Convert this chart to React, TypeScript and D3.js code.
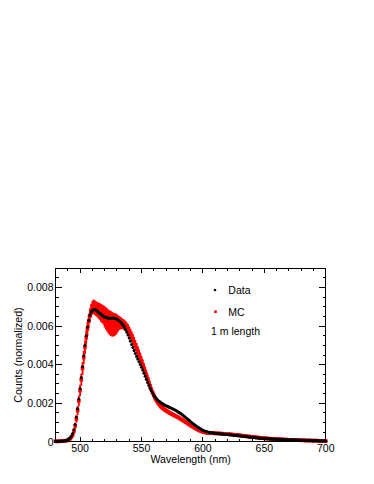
import React from "react";
import * as d3 from "d3";

// wavelength bins (nm), 1 nm step
const wlStart = 480;
const wlEnd = 700;

// Measured data (normalized counts), 480..700 nm
const dataValues = [
  0.00003, 0.00003, 0.00003, 0.00003, 0.00003, 0.00004, 0.00004, 0.00005, 0.00006, 0.00008,
  0.00011, 0.00015, 0.00021, 0.00030, 0.00043, 0.00062, 0.00090, 0.00128, 0.00172, 0.00222,
  0.00276, 0.00333, 0.00390, 0.00446, 0.00500, 0.00550, 0.00595, 0.00630, 0.00656, 0.00672,
  0.00681, 0.00685, 0.00686, 0.00683, 0.00678, 0.00672, 0.00667, 0.00661, 0.00656, 0.00651,
  0.00648, 0.00645, 0.00643, 0.00641, 0.00640, 0.00640, 0.00641, 0.00642, 0.00641, 0.00639,
  0.00636, 0.00632, 0.00627, 0.00621, 0.00614, 0.00605, 0.00595, 0.00583, 0.00569, 0.00554,
  0.00538, 0.00522, 0.00505, 0.00489, 0.00473, 0.00458, 0.00443, 0.00429, 0.00415, 0.00401,
  0.00387, 0.00372, 0.00356, 0.00340, 0.00324, 0.00308, 0.00293, 0.00278, 0.00265, 0.00253,
  0.00242, 0.00233, 0.00225, 0.00218, 0.00212, 0.00207, 0.00202, 0.00198, 0.00194, 0.00190,
  0.00187, 0.00184, 0.00181, 0.00178, 0.00175, 0.00172, 0.00169, 0.00166, 0.00162, 0.00158,
  0.00154, 0.00150, 0.00146, 0.00141, 0.00136, 0.00131, 0.00126, 0.00121, 0.00115, 0.00110,
  0.00104, 0.00099, 0.00094, 0.00089, 0.00084, 0.00079, 0.00075, 0.00071, 0.00067, 0.00063,
  0.00060, 0.00057, 0.00055, 0.00053, 0.00051, 0.00049, 0.00048, 0.00047, 0.00046, 0.00045,
  0.00044, 0.00043, 0.00043, 0.00042, 0.00042, 0.00041, 0.00040, 0.00040, 0.00039, 0.00038,
  0.00038, 0.00037, 0.00036, 0.00036, 0.00035, 0.00034, 0.00034, 0.00033, 0.00032, 0.00031,
  0.00031, 0.00030, 0.00029, 0.00028, 0.00028, 0.00027, 0.00026, 0.00025, 0.00025, 0.00024,
  0.00023, 0.00023, 0.00022, 0.00021, 0.00021, 0.00020, 0.00019, 0.00019, 0.00018, 0.00018,
  0.00017, 0.00017, 0.00016, 0.00016, 0.00015, 0.00015, 0.00015, 0.00014, 0.00014, 0.00014,
  0.00013, 0.00013, 0.00013, 0.00012, 0.00012, 0.00012, 0.00012, 0.00011, 0.00011, 0.00011,
  0.00010, 0.00010, 0.00010, 0.00010, 0.00010, 0.00009, 0.00009, 0.00009, 0.00009, 0.00008,
  0.00008, 0.00008, 0.00008, 0.00008, 0.00007, 0.00007, 0.00007, 0.00007, 0.00007, 0.00006,
  0.00006, 0.00006, 0.00006, 0.00006, 0.00005, 0.00005, 0.00005, 0.00005, 0.00005, 0.00004,
  0.00004,
];

// Monte Carlo (normalized counts), 480..700 nm
const mcValues = [
  0.00002, 0.00003, 0.00002, 0.00003, 0.00003, 0.00003, 0.00004, 0.00004, 0.00005, 0.00006,
  0.00008, 0.00012, 0.00017, 0.00025, 0.00036, 0.00055, 0.00082, 0.00118, 0.00162, 0.00212,
  0.00266, 0.00322, 0.00380, 0.00437, 0.00490, 0.00540, 0.00585, 0.00625, 0.00656, 0.00680,
  0.00695, 0.00700, 0.00696, 0.00690, 0.00686, 0.00680, 0.00676, 0.00668, 0.00664, 0.00658,
  0.00648, 0.00640, 0.00632, 0.00624, 0.00618, 0.00614, 0.00610, 0.00608, 0.00608, 0.00610,
  0.00612, 0.00614, 0.00616, 0.00616, 0.00614, 0.00610, 0.00606, 0.00600, 0.00592, 0.00584,
  0.00572, 0.00560, 0.00546, 0.00532, 0.00518, 0.00502, 0.00486, 0.00470, 0.00454, 0.00437,
  0.00420, 0.00402, 0.00384, 0.00366, 0.00347, 0.00328, 0.00309, 0.00290, 0.00272, 0.00256,
  0.00241, 0.00228, 0.00216, 0.00206, 0.00197, 0.00189, 0.00182, 0.00176, 0.00171, 0.00166,
  0.00162, 0.00158, 0.00154, 0.00150, 0.00146, 0.00143, 0.00140, 0.00136, 0.00133, 0.00129,
  0.00126, 0.00122, 0.00118, 0.00114, 0.00110, 0.00106, 0.00102, 0.00098, 0.00093, 0.00089,
  0.00085, 0.00081, 0.00077, 0.00073, 0.00069, 0.00066, 0.00062, 0.00059, 0.00056, 0.00054,
  0.00052, 0.00050, 0.00048, 0.00047, 0.00046, 0.00046, 0.00045, 0.00045, 0.00045, 0.00044,
  0.00044, 0.00044, 0.00043, 0.00043, 0.00043, 0.00042, 0.00042, 0.00041, 0.00041, 0.00040,
  0.00040, 0.00039, 0.00039, 0.00038, 0.00037, 0.00037, 0.00036, 0.00035, 0.00035, 0.00034,
  0.00033, 0.00032, 0.00032, 0.00031, 0.00030, 0.00029, 0.00028, 0.00028, 0.00027, 0.00026,
  0.00025, 0.00025, 0.00024, 0.00023, 0.00022, 0.00022, 0.00021, 0.00020, 0.00020, 0.00019,
  0.00018, 0.00018, 0.00017, 0.00017, 0.00016, 0.00016, 0.00015, 0.00015, 0.00015, 0.00014,
  0.00014, 0.00013, 0.00013, 0.00013, 0.00012, 0.00012, 0.00012, 0.00011, 0.00011, 0.00011,
  0.00010, 0.00010, 0.00010, 0.00010, 0.00009, 0.00009, 0.00009, 0.00009, 0.00009, 0.00008,
  0.00008, 0.00008, 0.00008, 0.00007, 0.00007, 0.00007, 0.00007, 0.00007, 0.00006, 0.00006,
  0.00006, 0.00006, 0.00006, 0.00006, 0.00005, 0.00005, 0.00005, 0.00005, 0.00005, 0.00005,
  0.00004,
];

// Monte Carlo statistical errors, 480..700 nm
const mcErrors = [
  0.00002, 0.00002, 0.00002, 0.00002, 0.00002, 0.00002, 0.00002, 0.00002, 0.00002, 0.00002,
  0.00003, 0.00004, 0.00006, 0.00008, 0.00010, 0.00013, 0.00016, 0.00020, 0.00024, 0.00028,
  0.00030, 0.00032, 0.00034, 0.00035, 0.00036, 0.00036, 0.00036, 0.00036, 0.00036, 0.00036,
  0.00036, 0.00038, 0.00038, 0.00038, 0.00040, 0.00042, 0.00044, 0.00046, 0.00048, 0.00050,
  0.00055, 0.00058, 0.00060, 0.00062, 0.00064, 0.00065, 0.00064, 0.00062, 0.00060, 0.00056,
  0.00050, 0.00042, 0.00036, 0.00032, 0.00029, 0.00027, 0.00027, 0.00027, 0.00027, 0.00027,
  0.00027, 0.00027, 0.00027, 0.00027, 0.00026, 0.00026, 0.00026, 0.00025, 0.00025, 0.00024,
  0.00024, 0.00023, 0.00023, 0.00022, 0.00021, 0.00020, 0.00019, 0.00018, 0.00017, 0.00016,
  0.00015, 0.00015, 0.00014, 0.00014, 0.00013, 0.00013, 0.00012, 0.00012, 0.00012, 0.00011,
  0.00011, 0.00011, 0.00011, 0.00010, 0.00010, 0.00010, 0.00010, 0.00010, 0.00009, 0.00009,
  0.00009, 0.00009, 0.00009, 0.00009, 0.00008, 0.00008, 0.00008, 0.00008, 0.00008, 0.00008,
  0.00007, 0.00007, 0.00007, 0.00007, 0.00007, 0.00007, 0.00007, 0.00007, 0.00007, 0.00007,
  0.00006, 0.00006, 0.00006, 0.00006, 0.00006, 0.00006, 0.00006, 0.00006, 0.00006, 0.00006,
  0.00005, 0.00005, 0.00005, 0.00005, 0.00005, 0.00005, 0.00005, 0.00005, 0.00005, 0.00005,
  0.00004, 0.00004, 0.00004, 0.00004, 0.00004, 0.00004, 0.00004, 0.00004, 0.00004, 0.00004,
  0.00004, 0.00004, 0.00004, 0.00004, 0.00004, 0.00004, 0.00004, 0.00004, 0.00004, 0.00004,
  0.00004, 0.00004, 0.00004, 0.00004, 0.00004, 0.00004, 0.00004, 0.00004, 0.00004, 0.00004,
  0.00003, 0.00003, 0.00003, 0.00003, 0.00003, 0.00003, 0.00003, 0.00003, 0.00003, 0.00003,
  0.00003, 0.00003, 0.00003, 0.00003, 0.00003, 0.00003, 0.00003, 0.00003, 0.00003, 0.00003,
  0.00003, 0.00003, 0.00003, 0.00003, 0.00003, 0.00003, 0.00003, 0.00003, 0.00003, 0.00003,
  0.00002, 0.00002, 0.00002, 0.00002, 0.00002, 0.00002, 0.00002, 0.00002, 0.00002, 0.00002,
  0.00002, 0.00002, 0.00002, 0.00002, 0.00002, 0.00002, 0.00002, 0.00002, 0.00002, 0.00002,
  0.00002,
];

const xMajorTicks = [500, 550, 600, 650, 700];
const xTickLabels = ["500", "550", "600", "650", "700"];
const yMajorTicks = [0, 0.002, 0.004, 0.006, 0.008];
const yTickLabels = ["0", "0.002", "0.004", "0.006", "0.008"];
const legendLabels = ["Data", "MC"];
const legendNote = "1 m length";
const xTitle = "Wavelength (nm)";
const yTitle = "Counts (normalized)";

const W = 374;
const H = 484;
const FONT = "'Liberation Sans', Arial, Helvetica, sans-serif";

export default function App() {
  const wl = d3.range(wlStart, wlEnd + 1);
  const x = d3.scaleLinear().domain([480, 700]).range([55.5, 325.8]);
  const y = d3.scaleLinear().domain([0, 0.009]).range([441.8, 268.3]);
  const [x0, x1] = x.range();
  const [yb, yt] = y.range();
  const binW = x(481) - x(480);

  const xMinor = d3.range(480, 701, 10);
  const yMinor = d3.range(0, 0.00901, 0.0005);

  const red = "#ff0000";
  const ms = 3.6; // MC marker size

  return (
    <svg
      width={W}
      height={H}
      style={{ position: "absolute", left: 0, top: 0, background: "#fff" }}
      fontFamily={FONT}
    >
      <rect x={0} y={0} width={W} height={H} fill="#fff" />
      {/* MC error bands + markers */}
      <g fill={red}>
        {wl.map((w, i) => {
          const v = mcValues[i];
          const e = mcErrors[i];
          const top = y(v + e);
          const bot = y(Math.max(0, v - e));
          return (
            <rect
              key={"e" + w}
              x={x(w) - binW * 0.75}
              y={top}
              width={binW * 1.5}
              height={Math.max(0.5, bot - top)}
            />
          );
        })}
        {wl.map((w, i) => (
          <rect
            key={"m" + w}
            x={x(w) - ms / 2}
            y={y(mcValues[i]) - ms / 2}
            width={ms}
            height={ms}
          />
        ))}
      </g>
      {/* Data markers */}
      <g fill="#000">
        {wl.map((w, i) => (
          <circle key={"d" + w} cx={x(w)} cy={y(dataValues[i])} r={1.55} />
        ))}
      </g>

      {/* Frame */}
      <g stroke="#000" strokeWidth={1} fill="none" shapeRendering="crispEdges">
        <rect x={x0} y={yt} width={x1 - x0} height={yb - yt} />
        {xMinor.map((t) => {
          const major = xMajorTicks.includes(t);
          const len = major ? 5 : 2.7;
          return (
            <g key={"xt" + t}>
              <line x1={x(t)} x2={x(t)} y1={yb} y2={yb - len} />
              <line x1={x(t)} x2={x(t)} y1={yt} y2={yt + len} />
            </g>
          );
        })}
        {yMinor.map((t, i) => {
          const major = i % 4 === 0;
          const len = major ? 6.5 : 3.3;
          return (
            <g key={"yt" + i}>
              <line x1={x0} x2={x0 + len} y1={y(t)} y2={y(t)} />
              <line x1={x1} x2={x1 - len} y1={y(t)} y2={y(t)} />
            </g>
          );
        })}
      </g>

      {/* Tick labels */}
      <g fontSize={10.5} fill="#000">
        {xMajorTicks.map((t, i) => (
          <text key={"xl" + t} x={x(t)} y={452.4} textAnchor="middle">
            {xTickLabels[i]}
          </text>
        ))}
        {yMajorTicks.map((t, i) => (
          <text key={"yl" + t} x={53.5} y={y(t) + 3.8} textAnchor="end">
            {yTickLabels[i]}
          </text>
        ))}
      </g>

      {/* Axis titles */}
      <text x={(x0 + x1) / 2} y={463.4} textAnchor="middle" fontSize={10.6} fill="#000">
        {xTitle}
      </text>
      <text
        transform={`translate(22,${(yt + yb) / 2}) rotate(-90)`}
        textAnchor="middle"
        fontSize={10.6}
        fill="#000"
      >
        {yTitle}
      </text>

      {/* Legend */}
      <circle cx={215} cy={290} r={1.3} fill="#000" />
      <text x={228.3} y={293.8} fontSize={10.5} fill="#000">
        {legendLabels[0]}
      </text>
      <rect x={214.2} y={310.4} width={2.6} height={2.6} fill={red} />
      <text x={228.3} y={315.5} fontSize={10.5} fill="#000">
        {legendLabels[1]}
      </text>
      <text x={211} y={335} fontSize={10.5} fill="#000">
        {legendNote}
      </text>
    </svg>
  );
}
